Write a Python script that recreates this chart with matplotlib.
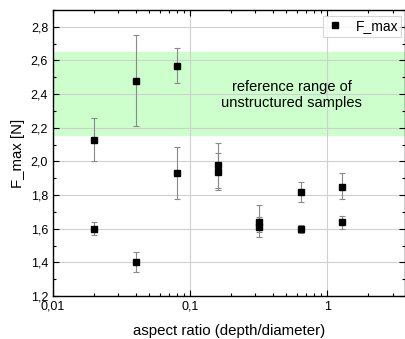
"""
F_max vs aspect ratio
"""

import numpy as np
import matplotlib
matplotlib.use("Agg")
import matplotlib.pyplot as plt
from matplotlib.lines import Line2D
from matplotlib.ticker import LogLocator, FixedLocator, MultipleLocator, FuncFormatter


# DATA

aspect_ratio = [0.02, 0.02, 0.04, 0.04, 0.08, 0.08, 0.16, 0.16, 0.32, 0.32, 0.64, 0.64, 1.28, 1.28]
f_max = [2.13, 1.60, 2.48, 1.40, 2.57, 1.93, 1.98, 1.94, 1.64, 1.61, 1.82, 1.60, 1.85, 1.64]
err_low = [0.13, 0.04, 0.27, 0.06, 0.105, 0.155, 0.14, 0.11, 0.06, 0.06, 0.06, 0.025, 0.075, 0.04]
err_high = [0.13, 0.04, 0.27, 0.06, 0.105, 0.155, 0.13, 0.11, 0.10, 0.06, 0.055, 0.025, 0.08, 0.035]

ref_range = (2.15, 2.65)
ref_text = "reference range of\nunstructured samples"


# PLOT

plt.rcParams['font.family'] = ['Liberation Sans', 'DejaVu Sans']

fig = plt.figure(figsize=(4.05, 3.39), dpi=100)
ax = fig.add_axes([0.1309, 0.1268, 0.8691, 0.8437])

ax.axhspan(ref_range[0], ref_range[1], color='#ccffcc', zorder=0, lw=0)
ax.text(0.55, np.mean(ref_range) - 0.005, ref_text, ha='center', va='center', fontsize=10.5,
        linespacing=1.15)

ax.errorbar(aspect_ratio, f_max, yerr=[err_low, err_high], fmt='s', color='black',
            ms=5, ecolor='#8a8a8a', elinewidth=0.8, capsize=2.5, capthick=0.8, zorder=3)

ax.set_xscale('log')
ax.set_xlim(0.01, 3.7)
ax.set_ylim(1.2, 2.9)

ax.xaxis.set_major_locator(FixedLocator([0.01, 0.1, 1]))
ax.xaxis.set_minor_locator(LogLocator(base=10, subs=np.arange(2, 10)))
ax.xaxis.set_major_formatter(FuncFormatter(lambda v, p: f"{v:g}".replace('.', ',')))
ax.xaxis.set_minor_formatter(FuncFormatter(lambda v, p: ""))
ax.yaxis.set_major_locator(MultipleLocator(0.2))
ax.yaxis.set_minor_locator(MultipleLocator(0.1))
ax.yaxis.set_major_formatter(FuncFormatter(lambda v, p: f"{v:.1f}".replace('.', ',')))

ax.tick_params(which='both', direction='in', top=True, right=True, labelsize=9, width=0.8)
ax.tick_params(which='major', length=4)
ax.tick_params(which='minor', length=2.5)
ax.grid(which='major', color='#d0d0d0', linewidth=0.8)
ax.set_axisbelow(True)
for s in ax.spines.values():
    s.set_linewidth(1.0)

ax.set_xlabel("aspect ratio (depth/diameter)", fontsize=10.8, labelpad=8)
ax.set_ylabel("F_max [N]", fontsize=10.8, labelpad=4)

handle = Line2D([], [], marker='s', color='black', ls='none', ms=4.5)
leg = ax.legend([handle], ['F_max'], loc='upper right', bbox_to_anchor=(0.99, 0.98),
                fontsize=10, frameon=True, fancybox=False, edgecolor='#cccccc',
                handletextpad=0.9, borderpad=0.25, handlelength=1.2, borderaxespad=0)
leg.get_frame().set_linewidth(0.8)

fig.savefig("out.png", dpi=100)
